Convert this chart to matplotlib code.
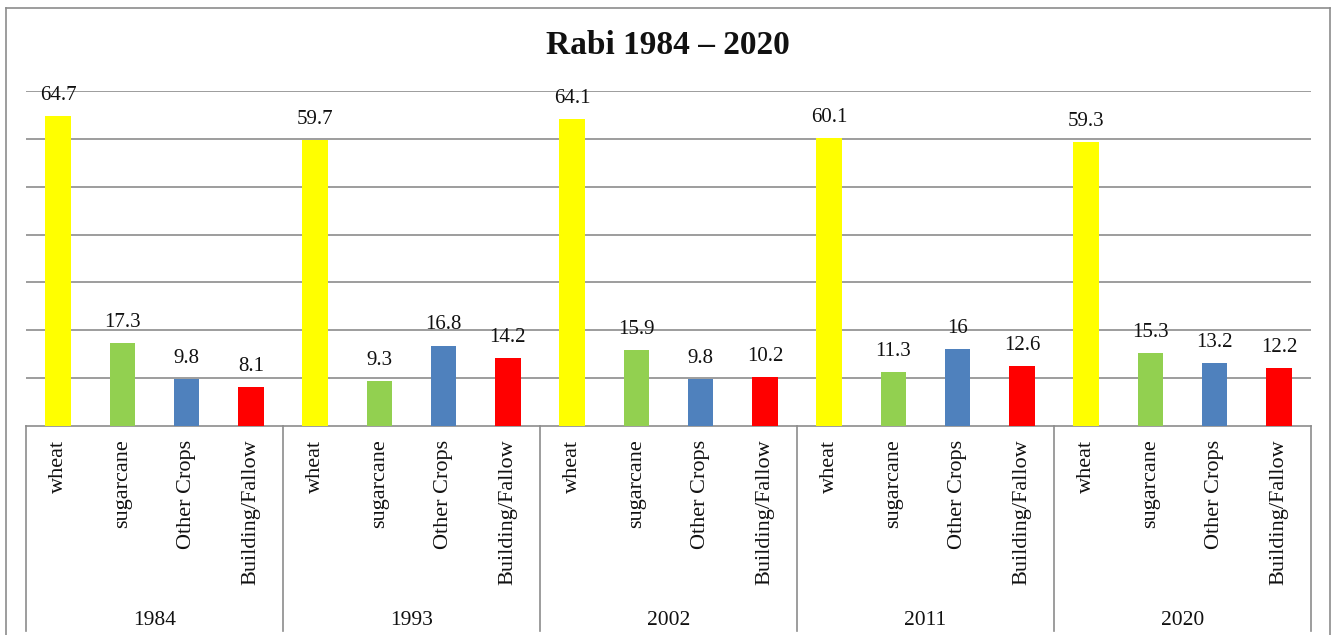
import numpy as np
import matplotlib
matplotlib.use("Agg")
import matplotlib.pyplot as plt
from matplotlib.lines import Line2D

plt.rcParams['font.family'] = ['Liberation Serif', 'DejaVu Serif']

# data
years = ['1984', '1993', '2002', '2011', '2020']
classes = ['wheat', 'sugarcane', 'Other Crops', 'Building/Fallow']
values = [
    [64.7, 17.3, 9.8, 8.1],
    [59.7, 9.3, 16.8, 14.2],
    [64.1, 15.9, 9.8, 10.2],
    [60.1, 11.3, 16, 12.6],
    [59.3, 15.3, 13.2, 12.2],
]
labels = [
    ['64.7', '17.3', '9.8', '8.1'],
    ['59.7', '9.3', '16.8', '14.2'],
    ['64.1', '15.9', '9.8', '10.2'],
    ['60.1', '11.3', '16', '12.6'],
    ['59.3', '15.3', '13.2', '12.2'],
]
colors = ['#FFFF00', '#92D050', '#4F81BD', '#FF0000']

W, H = 1333, 635
fig = plt.figure(figsize=(W / 100, H / 100), dpi=100)
ax = fig.add_axes([26 / W, 1 - 426 / H, (1311 - 26) / W, (426 - 91) / H])

nc = len(classes)
x = []
for g in range(len(years)):
    for c in range(nc):
        x.append(g * nc + c)
x = np.array(x)
flat_vals = [v for row in values for v in row]
flat_lbls = [v for row in labels for v in row]
flat_cols = colors * len(years)

bars = ax.bar(x, flat_vals, width=0.4, color=flat_cols, zorder=3)
for b, t in zip(bars, flat_lbls):
    ax.annotate(t, (b.get_x() + b.get_width() / 2, b.get_height()),
                xytext=(0, 8), textcoords='offset points',
                ha='center', va='bottom', fontsize=15, color='#111111')

ax.set_xlim(-0.5, len(x) - 0.5)
ax.set_ylim(0, 70)
ax.set_yticks(np.arange(10, 71, 10))
ax.yaxis.grid(True, color='#8c8c8c', linewidth=1.2, zorder=0)
ax.tick_params(axis='y', left=False, labelleft=False)
ax.tick_params(axis='x', bottom=False, labelbottom=False)
for s in ['left', 'right', 'top']:
    ax.spines[s].set_visible(False)
ax.spines['bottom'].set_color('#8c8c8c')
ax.spines['bottom'].set_linewidth(1.2)

# two-level category axis
trans = ax.get_xaxis_transform()
for xi, c in zip(x, classes * len(years)):
    ax.text(xi, -0.04, c, rotation=90, ha='center', va='top',
            fontsize=16, transform=trans, color='#111111')
for g, yr in enumerate(years):
    ax.text(g * nc + (nc - 1) / 2, -0.58, yr, ha='center', va='center',
            fontsize=15.5, transform=trans, color='#111111')
for g in range(len(years) + 1):
    ax.plot([g * nc - 0.5, g * nc - 0.5], [0, -0.612], transform=trans,
            color='#8c8c8c', linewidth=1.2, clip_on=False)

# title
fig.text(668 / W, 1 - 46 / H, 'Rabi 1984 \u2013 2020', ha='center', va='center',
         fontsize=24, fontweight='bold', color='#111111')

# chart area border
bc = '#8c8c8c'
fig.add_artist(Line2D([6 / W, 6 / W], [0, 1 - 8 / H], color=bc, linewidth=1.2))
fig.add_artist(Line2D([6 / W, 1330 / W], [1 - 8 / H, 1 - 8 / H], color=bc, linewidth=1.2))
fig.add_artist(Line2D([1330 / W, 1330 / W], [0, 1 - 8 / H], color=bc, linewidth=1.2))

fig.savefig('out.png', dpi=100)
